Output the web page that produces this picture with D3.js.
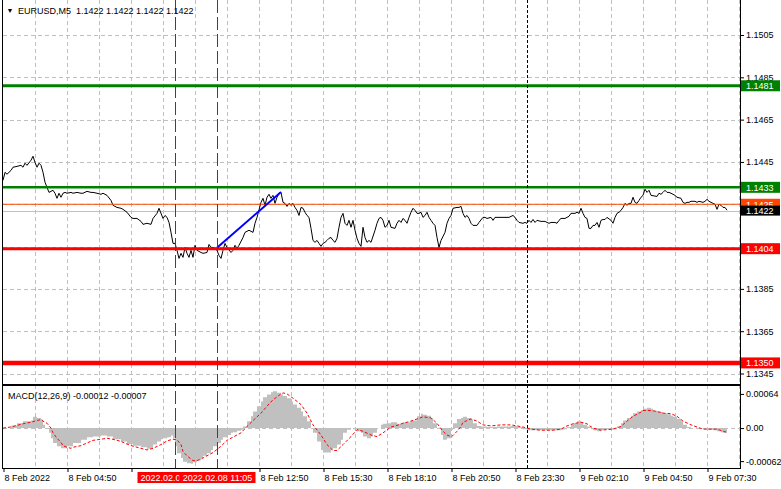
<!DOCTYPE html>
<html><head><meta charset="utf-8">
<script src="https://cdn.jsdelivr.net/npm/d3@7"></script>
<style>
body{margin:0;background:#fff}
svg{display:block;font-family:"Liberation Sans",Arial,sans-serif;font-size:9px}
</style>
</head><body><svg id="c" width="781" height="489"></svg>
<script>
// ---------- DATA ----------
const symbolTitle = "EURUSD,M5";
const ohlcText = "1.1422 1.1422 1.1422 1.1422";
const macdTitle = "MACD(12,26,9) -0.00012 -0.00007";

// close prices: [bar index, price]
const closeSeries = [
[0,1.14363],[1,1.14401],[2,1.14392],[4,1.14410],[5,1.14425],[7,1.14429],[9,1.14434],[10,1.14425],[11,1.14444],[12,1.14434],
[14,1.14458],[15,1.14477],[16,1.14448],[17,1.14425],[18,1.14444],[19,1.14434],[20,1.14401],[21,1.14354],[22,1.14330],[23,1.14306],
[25,1.14316],[26,1.14302],[27,1.14278],[28,1.14302],[29,1.14283],[30,1.14302],[31,1.14306],[32,1.14302],[34,1.14306],[35,1.14302],
[37,1.14306],[39,1.14302],[40,1.14302],[42,1.14311],[44,1.14306],[45,1.14306],[47,1.14302],[49,1.14297],[50,1.14302],[52,1.14292],
[54,1.14268],[55,1.14245],[57,1.14235],[59,1.14231],[60,1.14226],[62,1.14212],[64,1.14188],[65,1.14183],[67,1.14183],[69,1.14169],
[70,1.14155],[72,1.14160],[74,1.14155],[75,1.14183],[77,1.14207],[78,1.14231],[80,1.14183],[81,1.14197],[82,1.14188],[83,1.14164],
[84,1.14117],[85,1.14065],[86,1.14065],[87,1.14032],[88,1.13994],[89,1.14018],[90,1.13999],[91,1.14046],[92,1.14018],[93,1.13999],
[94,1.14032],[95,1.13999],[96,1.14056],[97,1.14032],[99,1.14022],[100,1.14018],[102,1.14022],[103,1.14060],[104,1.14046],[105,1.14046],
[106,1.14041],[107,1.14032],[108,1.14008],[109,1.13994],[110,1.14032],[111,1.14065],[112,1.14046],[114,1.14022],[115,1.14032],[116,1.14056],
[117,1.14041],[118,1.14056],[120,1.14093],[121,1.14117],[123,1.14127],[125,1.14117],[126,1.14160],[127,1.14188],[129,1.14259],[130,1.14278],
[131,1.14245],[132,1.14283],[133,1.14297],[134,1.14278],[135,1.14292],[136,1.14254],[137,1.14283],[138,1.14302],[139,1.14306],[140,1.14259],
[141,1.14254],[142,1.14240],[143,1.14254],[144,1.14245],[145,1.14254],[146,1.14235],[147,1.14221],[148,1.14197],[149,1.14235],[150,1.14231],
[151,1.14212],[152,1.14197],[153,1.14188],[154,1.14136],[155,1.14079],[156,1.14070],[157,1.14079],[158,1.14065],[159,1.14051],[160,1.14065],
[161,1.14070],[162,1.14079],[163,1.14089],[164,1.14093],[165,1.14079],[166,1.14070],[167,1.14089],[168,1.14141],[169,1.14188],[170,1.14207],
[171,1.14160],[172,1.14150],[173,1.14174],[174,1.14141],[175,1.14174],[176,1.14127],[177,1.14089],[178,1.14065],[179,1.14051],[180,1.14141],
[181,1.14093],[182,1.14070],[183,1.14079],[184,1.14070],[186,1.14127],[187,1.14160],[188,1.14183],[189,1.14188],[190,1.14174],[191,1.14141],
[192,1.14150],[193,1.14174],[194,1.14141],[196,1.14136],[197,1.14160],[198,1.14174],[199,1.14164],[200,1.14183],[201,1.14174],[202,1.14160],
[203,1.14188],[204,1.14212],[205,1.14231],[206,1.14221],[207,1.14207],[208,1.14207],[209,1.14212],[210,1.14188],[211,1.14197],[212,1.14212],
[213,1.14188],[214,1.14174],[215,1.14160],[216,1.14150],[217,1.14093],[218,1.14046],[219,1.14079],[221,1.14117],[222,1.14160],[223,1.14183],
[224,1.14197],[225,1.14231],[227,1.14235],[228,1.14235],[229,1.14240],[230,1.14207],[231,1.14188],[232,1.14197],[233,1.14183],[234,1.14160],
[235,1.14150],[237,1.14150],[238,1.14164],[240,1.14188],[241,1.14188],[242,1.14183],[244,1.14188],[245,1.14174],[246,1.14188],[247,1.14188],
[250,1.14188],[253,1.14188],[255,1.14197],[256,1.14188],[257,1.14174],[258,1.14164],[260,1.14160],[261,1.14164],[262,1.14160],[263,1.14174],
[264,1.14164],[265,1.14178],[266,1.14164],[267,1.14174],[269,1.14169],[271,1.14169],[272,1.14164],[273,1.14160],[274,1.14164],[276,1.14164],
[277,1.14160],[278,1.14174],[279,1.14183],[281,1.14183],[282,1.14188],[283,1.14193],[284,1.14207],[286,1.14207],[287,1.14212],[288,1.14207],
[289,1.14231],[290,1.14207],[291,1.14188],[292,1.14183],[293,1.14136],[294,1.14136],[295,1.14150],[296,1.14150],[297,1.14164],[298,1.14141],
[299,1.14174],[300,1.14178],[301,1.14178],[302,1.14188],[304,1.14174],[305,1.14160],[306,1.14188],[307,1.14207],[308,1.14212],[309,1.14221],
[310,1.14235],[311,1.14254],[312,1.14245],[313,1.14254],[314,1.14254],[315,1.14283],[316,1.14259],[317,1.14254],[318,1.14268],[319,1.14283],
[320,1.14292],[321,1.14321],[322,1.14306],[323,1.14316],[324,1.14292],[327,1.14287],[328,1.14302],[329,1.14297],[330,1.14306],[331,1.14316],
[332,1.14306],[333,1.14306],[334,1.14302],[335,1.14297],[336,1.14292],[337,1.14283],[339,1.14278],[340,1.14259],[341,1.14254],[342,1.14259],
[343,1.14259],[344,1.14264],[346,1.14264],[347,1.14259],[348,1.14264],[350,1.14259],[351,1.14264],[352,1.14273],[353,1.14264],[354,1.14259],
[356,1.14250],[357,1.14226],[358,1.14250],[359,1.14245],[360,1.14235],[361,1.14235],[362,1.14222]
];

// MACD main (histogram) : [bar, value]
const macdMain = [
[0,0],[4,0.00005],[7,0.00009],[10,0.00013],[14,0.00014],[15,0.00021],[17,0.00019],[19,0.00016],[20,0.00006],[21,0],[23,-0.00009],[24,-0.00019],
[25,-0.00028],[27,-0.00034],[29,-0.00038],[30,-0.00038],[32,-0.00034],[35,-0.00028],[39,-0.00022],[42,-0.00017],[45,-0.00016],[49,-0.00014],
[52,-0.00016],[55,-0.00021],[59,-0.00025],[62,-0.00030],[65,-0.00033],[69,-0.00036],[72,-0.00039],[74,-0.00038],[75,-0.00031],[77,-0.00025],
[79,-0.00021],[80,-0.00019],[82,-0.00017],[84,-0.00014],[85,-0.00019],[86,-0.00034],[87,-0.00047],[89,-0.00056],[90,-0.00063],[92,-0.00066],
[94,-0.00067],[95,-0.00064],[97,-0.00061],[99,-0.00056],[100,-0.00052],[102,-0.00047],[104,-0.00041],[105,-0.00034],[107,-0.00028],[109,-0.00022],
[110,-0.00017],[112,-0.00013],[114,-0.00009],[115,-0.00008],[117,-0.00005],[119,-0.00003],[120,0.00003],[122,0.00013],[124,0.00022],[125,0.00031],
[127,0.00041],[129,0.00050],[130,0.00058],[132,0.00063],[134,0.00067],[135,0.00069],[137,0.00066],[139,0.00063],[140,0.00060],[142,0.00056],
[144,0.00050],[145,0.00044],[147,0.00038],[149,0.00031],[150,0.00022],[152,0.00013],[154,0],[155,-0.00009],[157,-0.00025],[159,-0.00041],
[160,-0.00046],[162,-0.00046],[164,-0.00041],[165,-0.00038],[167,-0.00031],[169,-0.00022],[170,-0.00009],[172,-0.00003],[174,0],[175,-0.00002],
[177,-0.00006],[179,-0.00009],[180,-0.00016],[182,-0.00019],[184,-0.00016],[185,-0.00009],[187,0],[189,0.00006],[190,0.00008],[192,0.00009],
[194,0.00011],[197,0.00008],[200,0.00011],[204,0.00014],[207,0.00022],[209,0.00027],[210,0.00025],[212,0.00023],[214,0.00019],[215,0.00009],
[217,0],[219,-0.00013],[220,-0.00022],[222,-0.00019],[224,-0.00003],[225,0.00009],[227,0.00017],[229,0.00019],[230,0.00021],[232,0.00019],
[234,0.00016],[235,0.00009],[237,0.00004],[239,0.00003],[242,0.00002],[247,0.00003],[254,0.00004],[257,0.00002],[260,-0.00002],[262,-0.00004],
[269,-0.00004],[275,-0.00004],[279,-0.00003],[280,-0.00002],[282,0.00002],[284,0.00006],[285,0.00009],[287,0.00013],[289,0.00011],[290,0.00006],
[292,0.00003],[294,-0.00002],[295,-0.00004],[297,-0.00006],[299,-0.00004],[300,-0.00003],[302,-0.00002],[304,-0.00003],[305,-0.00002],[307,0.00003],
[309,0.00009],[310,0.00014],[312,0.00019],[314,0.00023],[315,0.00028],[317,0.00031],[319,0.00034],[320,0.00036],[322,0.00038],[324,0.00036],
[325,0.00033],[327,0.00031],[329,0.00030],[330,0.00028],[332,0.00026],[334,0.00023],[335,0.00021],[337,0.00017],[339,0.00013],[340,0.00006],
[342,0.00002],[344,0],[347,-0.00001],[350,-0.00002],[352,-0.00003],[355,-0.00004],[357,-0.00006],[359,-0.00008],[360,-0.00009],[362,-0.00012]
];

// MACD signal: [bar, value]
const macdSignal = [
[0,0],[4,0.00002],[7,0.00005],[10,0.00008],[14,0.00011],[17,0.00014],[19,0.00016],[20,0.00013],[22,0.00009],[24,0],[25,-0.00009],[27,-0.00019],
[29,-0.00027],[30,-0.00033],[32,-0.00036],[34,-0.00038],[35,-0.00036],[39,-0.00033],[42,-0.00028],[45,-0.00023],[49,-0.00021],[52,-0.00019],
[55,-0.00021],[59,-0.00025],[62,-0.00030],[65,-0.00034],[69,-0.00038],[72,-0.00041],[75,-0.00038],[79,-0.00031],[82,-0.00024],[84,-0.00022],
[85,-0.00021],[87,-0.00022],[89,-0.00031],[90,-0.00044],[92,-0.00052],[94,-0.00058],[95,-0.00061],[97,-0.00061],[99,-0.00058],[102,-0.00052],
[105,-0.00046],[109,-0.00034],[112,-0.00023],[115,-0.00017],[119,-0.00009],[122,0.00003],[125,0.00014],[129,0.00028],[132,0.00041],[135,0.00053],
[139,0.00064],[140,0.00066],[142,0.00064],[145,0.00056],[149,0.00044],[152,0.00028],[155,0.00006],[159,-0.00013],[162,-0.00031],[165,-0.00042],
[167,-0.00042],[170,-0.00031],[174,-0.00016],[177,-0.00003],[180,-0.00006],[184,-0.00013],[187,-0.00016],[190,-0.00009],[194,0.00002],[197,0.00005],
[200,0.00009],[204,0.00013],[207,0.00017],[210,0.00021],[214,0.00019],[217,0.00009],[220,-0.00006],[222,-0.00013],[224,-0.00016],[225,-0.00014],
[227,-0.00006],[229,0.00003],[230,0.00011],[234,0.00017],[237,0.00013],[240,0.00006],[244,0.00004],[249,0.00006],[254,0.00006],[257,0.00004],
[260,0.00002],[264,-0.00002],[269,-0.00004],[275,-0.00004],[279,-0.00002],[282,0.00004],[285,0.00008],[289,0.00011],[292,0.00008],[295,0],
[299,-0.00004],[302,-0.00003],[305,-0.00002],[309,0.00003],[312,0.00013],[315,0.00022],[319,0.00030],[320,0.00033],[324,0.00033],[327,0.00031],
[330,0.00028],[334,0.00027],[337,0.00022],[340,0.00013],[344,0.00006],[347,0.00002],[350,-0.00002],[354,-0.00002],[357,-0.00002],[360,-0.00006],[362,-0.00008]
];

const levelPrices = [1.1481, 1.1433, 1.1425, 1.1404, 1.1350];
const bidPrice = 1.1422;
const trendBars = [107, 139];
const trendPrices = [1.14044, 1.14308];
const markerBars = [86, 107];
const markerLabels = ["2022.02.08 09:20", "2022.02.08 11:05"];
const periodSepBar = 262;

const timeTickBars = [0,32,64,96,128,160,192,224,256,288,320,352];
const timeTickLabels = ["8 Feb 2022","8 Feb 04:50","8 Feb 07:30","8 Feb 10:10","8 Feb 12:50","8 Feb 15:30","8 Feb 18:10","8 Feb 20:50","8 Feb 23:30","9 Feb 02:10","9 Feb 04:50","9 Feb 07:30"];
const priceTicks = [1.1345,1.1365,1.1385,1.1405,1.1425,1.1445,1.1465,1.1485,1.1505];
const macdTicks = [0.00064, 0, -0.00062];
const macdTickLabels = ["0.00064", "0.00", "-0.00062"];

// ---------- STYLE ----------
const levelStyle = [
  {color:"#008000", w:3}, {color:"#008000", w:2.5}, {color:"#ff4500", w:1},
  {color:"#ff0000", w:3}, {color:"#ff0000", w:4.5}
];
const GRID = "#c0c0c0";

// ---------- LAYOUT ----------
const L = 3, R = 740, mainTop = 0, mainBot = 384, macdTop = 386, macdBot = 468;
const svg = d3.select("#c");

const x = d3.scaleLinear().domain([0, 368.5]).range([L, R]);
const yP = d3.scaleLinear().domain([1.1345, 1.1505]).range([373.5, 35]);
const yM = d3.scaleLinear().domain([-0.00073, 0.00077]).range([467, 387]);

const defs = svg.append("defs");
defs.append("clipPath").attr("id","cm").append("rect").attr("x",L).attr("y",mainTop).attr("width",R-L).attr("height",mainBot-mainTop);
defs.append("clipPath").attr("id","cd").append("rect").attr("x",L).attr("y",macdTop).attr("width",R-L).attr("height",macdBot-macdTop);

// grid - vertical every 16 bars
const gridBars = d3.range(16, 369, 16);
svg.append("g").selectAll("line").data(gridBars).join("line")
  .attr("x1", d=>Math.round(x(d))+0.5).attr("x2", d=>Math.round(x(d))+0.5)
  .attr("y1", 0).attr("y2", macdBot)
  .attr("stroke", GRID).attr("stroke-dasharray","4,3");
// grid - horizontal main
svg.append("g").selectAll("line").data(priceTicks).join("line")
  .attr("x1", L).attr("x2", R)
  .attr("y1", d=>Math.round(yP(d))+0.5).attr("y2", d=>Math.round(yP(d))+0.5)
  .attr("stroke", GRID).attr("stroke-dasharray","4,3");
// grid - macd zero
svg.append("line").attr("x1",L).attr("x2",R)
  .attr("y1", Math.round(yM(0))+0.5).attr("y2", Math.round(yM(0))+0.5)
  .attr("stroke", GRID).attr("stroke-dasharray","4,3");

// main panel
const gm = svg.append("g").attr("clip-path","url(#cm)");
gm.append("line").attr("x1",L).attr("x2",R)
  .attr("y1", Math.round(yP(bidPrice))+0.5).attr("y2", Math.round(yP(bidPrice))+0.5)
  .attr("stroke","#c0c0c0");
gm.append("path").datum(closeSeries)
  .attr("d", d3.line().x(d=>x(d[0])).y(d=>yP(d[1])))
  .attr("fill","none").attr("stroke","#000").attr("stroke-width",1);
gm.selectAll("line.lvl").data(levelPrices).join("line").attr("class","lvl")
  .attr("x1",L).attr("x2",R)
  .attr("y1", d=>yP(d)).attr("y2", d=>yP(d))
  .attr("stroke",(d,i)=>levelStyle[i].color).attr("stroke-width",(d,i)=>levelStyle[i].w);
gm.append("path").datum(d3.zip(trendBars, trendPrices))
  .attr("d", d3.line().x(d=>x(d[0])).y(d=>yP(d[1])))
  .attr("stroke","#0000ff").attr("stroke-width",2).attr("fill","none");

// MACD panel
const gd = svg.append("g").attr("clip-path","url(#cd)");
gd.append("path").datum(macdMain)
  .attr("d", d3.area().curve(d3.curveStepAfter).x(d=>x(d[0])).y0(yM(0)).y1(d=>yM(d[1])))
  .attr("fill","#c0c0c0");
gd.append("path").datum(macdSignal)
  .attr("d", d3.line().x(d=>x(d[0])).y(d=>yM(d[1])))
  .attr("fill","none").attr("stroke","#ff0000").attr("stroke-width",1).attr("stroke-dasharray","3,2");

// vertical markers
svg.selectAll("line.mk").data(markerBars).join("line").attr("class","mk")
  .attr("x1", d=>Math.round(x(d))+0.5).attr("x2", d=>Math.round(x(d))+0.5)
  .attr("y1", 0).attr("y2", macdBot)
  .attr("stroke","#e00000").attr("stroke-dasharray","13,4");
svg.append("line")
  .attr("x1", Math.round(x(periodSepBar))+0.5).attr("x2", Math.round(x(periodSepBar))+0.5)
  .attr("y1",0).attr("y2",macdBot)
  .attr("stroke","#000").attr("stroke-dasharray","3,2");

// frames
svg.append("line").attr("x1",L-0.5).attr("x2",L-0.5).attr("y1",0).attr("y2",macdBot).attr("stroke","#000");
svg.append("line").attr("x1",R+0.5).attr("x2",R+0.5).attr("y1",0).attr("y2",macdBot+1).attr("stroke","#000");
svg.append("line").attr("x1",L).attr("x2",R).attr("y1",385).attr("y2",385).attr("stroke","#000").attr("stroke-width",2);
svg.append("line").attr("x1",L-1).attr("x2",R+1).attr("y1",macdBot+0.5).attr("y2",macdBot+0.5).attr("stroke","#000");

// price axis (labels hidden where level boxes sit)
const hiddenPriceLabels = [1.1405, 1.1425];
const pa = svg.append("g").attr("transform",`translate(${R+1},0)`)
  .call(d3.axisRight(yP).tickValues(priceTicks).tickSize(3)
    .tickFormat(d => hiddenPriceLabels.includes(d) ? "" : d3.format(".4f")(d)));
pa.select(".domain").remove();
pa.selectAll("text").attr("x",5).attr("font-size",9).attr("font-family","Liberation Sans, Arial").attr("fill","#000");
pa.selectAll("line").attr("stroke","#000");

// macd axis
const ma = svg.append("g").attr("transform",`translate(${R+1},0)`)
  .call(d3.axisRight(yM).tickValues(macdTicks).tickSize(3).tickFormat((d,i)=>macdTickLabels[i]));
ma.select(".domain").remove();
ma.selectAll("text").attr("x",5).attr("font-size",9).attr("font-family","Liberation Sans, Arial").attr("fill","#000");
ma.selectAll("line").attr("stroke","#000");

// level labels
const lab = svg.append("g");
levelPrices.forEach((p,i)=>{
  const cy = yP(p);
  lab.append("rect").attr("x",R+1).attr("y",cy-5.5).attr("width",39).attr("height",11).attr("fill",levelStyle[i].color);
  lab.append("text").attr("x",R+6).attr("y",cy+3.5).attr("fill","#fff").text(d3.format(".4f")(p));
});
{
  const cy = yP(bidPrice);
  lab.append("rect").attr("x",R+1).attr("y",cy-5).attr("width",39).attr("height",10).attr("fill","#000");
  lab.append("text").attr("x",R+6).attr("y",cy+3.5).attr("fill","#fff").text(d3.format(".4f")(bidPrice));
}

// time axis
const markerX = markerBars.map(b => Math.round(x(b))+0.5);
defs.append("clipPath").attr("id","ct0").append("rect").attr("x",0).attr("y",460).attr("width",markerX[0]-38).attr("height",29);
defs.append("clipPath").attr("id","ct1").append("rect").attr("x",0).attr("y",460).attr("width",markerX[1]-38).attr("height",29);

const ta = svg.append("g").attr("transform",`translate(0,${macdBot})`)
  .call(d3.axisBottom(x).tickValues(timeTickBars).tickSize(4).tickFormat((d,i)=>timeTickLabels[i]));
ta.select(".domain").remove();
ta.selectAll("line").attr("stroke","#000").attr("transform","translate(0.5,0)");
ta.selectAll("text").attr("text-anchor","start").attr("x",1).attr("y",7).attr("dy","0.71em")
  .attr("font-size",9).attr("font-family","Liberation Sans, Arial").attr("fill","#000");
// labels covered by the marker boxes are not visible in the chart
ta.selectAll(".tick").filter(d => d > 80 && d < 120).remove();

// marker labels on time axis
markerBars.forEach((b,i)=>{
  const cx = markerX[i];
  svg.append("rect").attr("x",cx-38).attr("y",472).attr("width",76).attr("height",11).attr("fill","#ff0000");
  const t = svg.append("text").attr("x",cx).attr("y",481).attr("text-anchor","middle").attr("fill","#fff").text(markerLabels[i]);
  if (i < markerBars.length - 1) t.attr("clip-path", `url(#ct${i+1})`);
});
// the 07:30 label is partly hidden by the first marker box
ta.selectAll(".tick").filter(d => d === 64).select("text").attr("clip-path","url(#ct0)");

// titles
svg.append("text").attr("x",6.5).attr("y",13).attr("font-size",7).text("▼");
svg.append("text").attr("x",18).attr("y",14).attr("xml:space","preserve").text(symbolTitle + "  " + ohlcText);
svg.append("text").attr("x",8).attr("y",399).text(macdTitle);
</script>
</body></html>
